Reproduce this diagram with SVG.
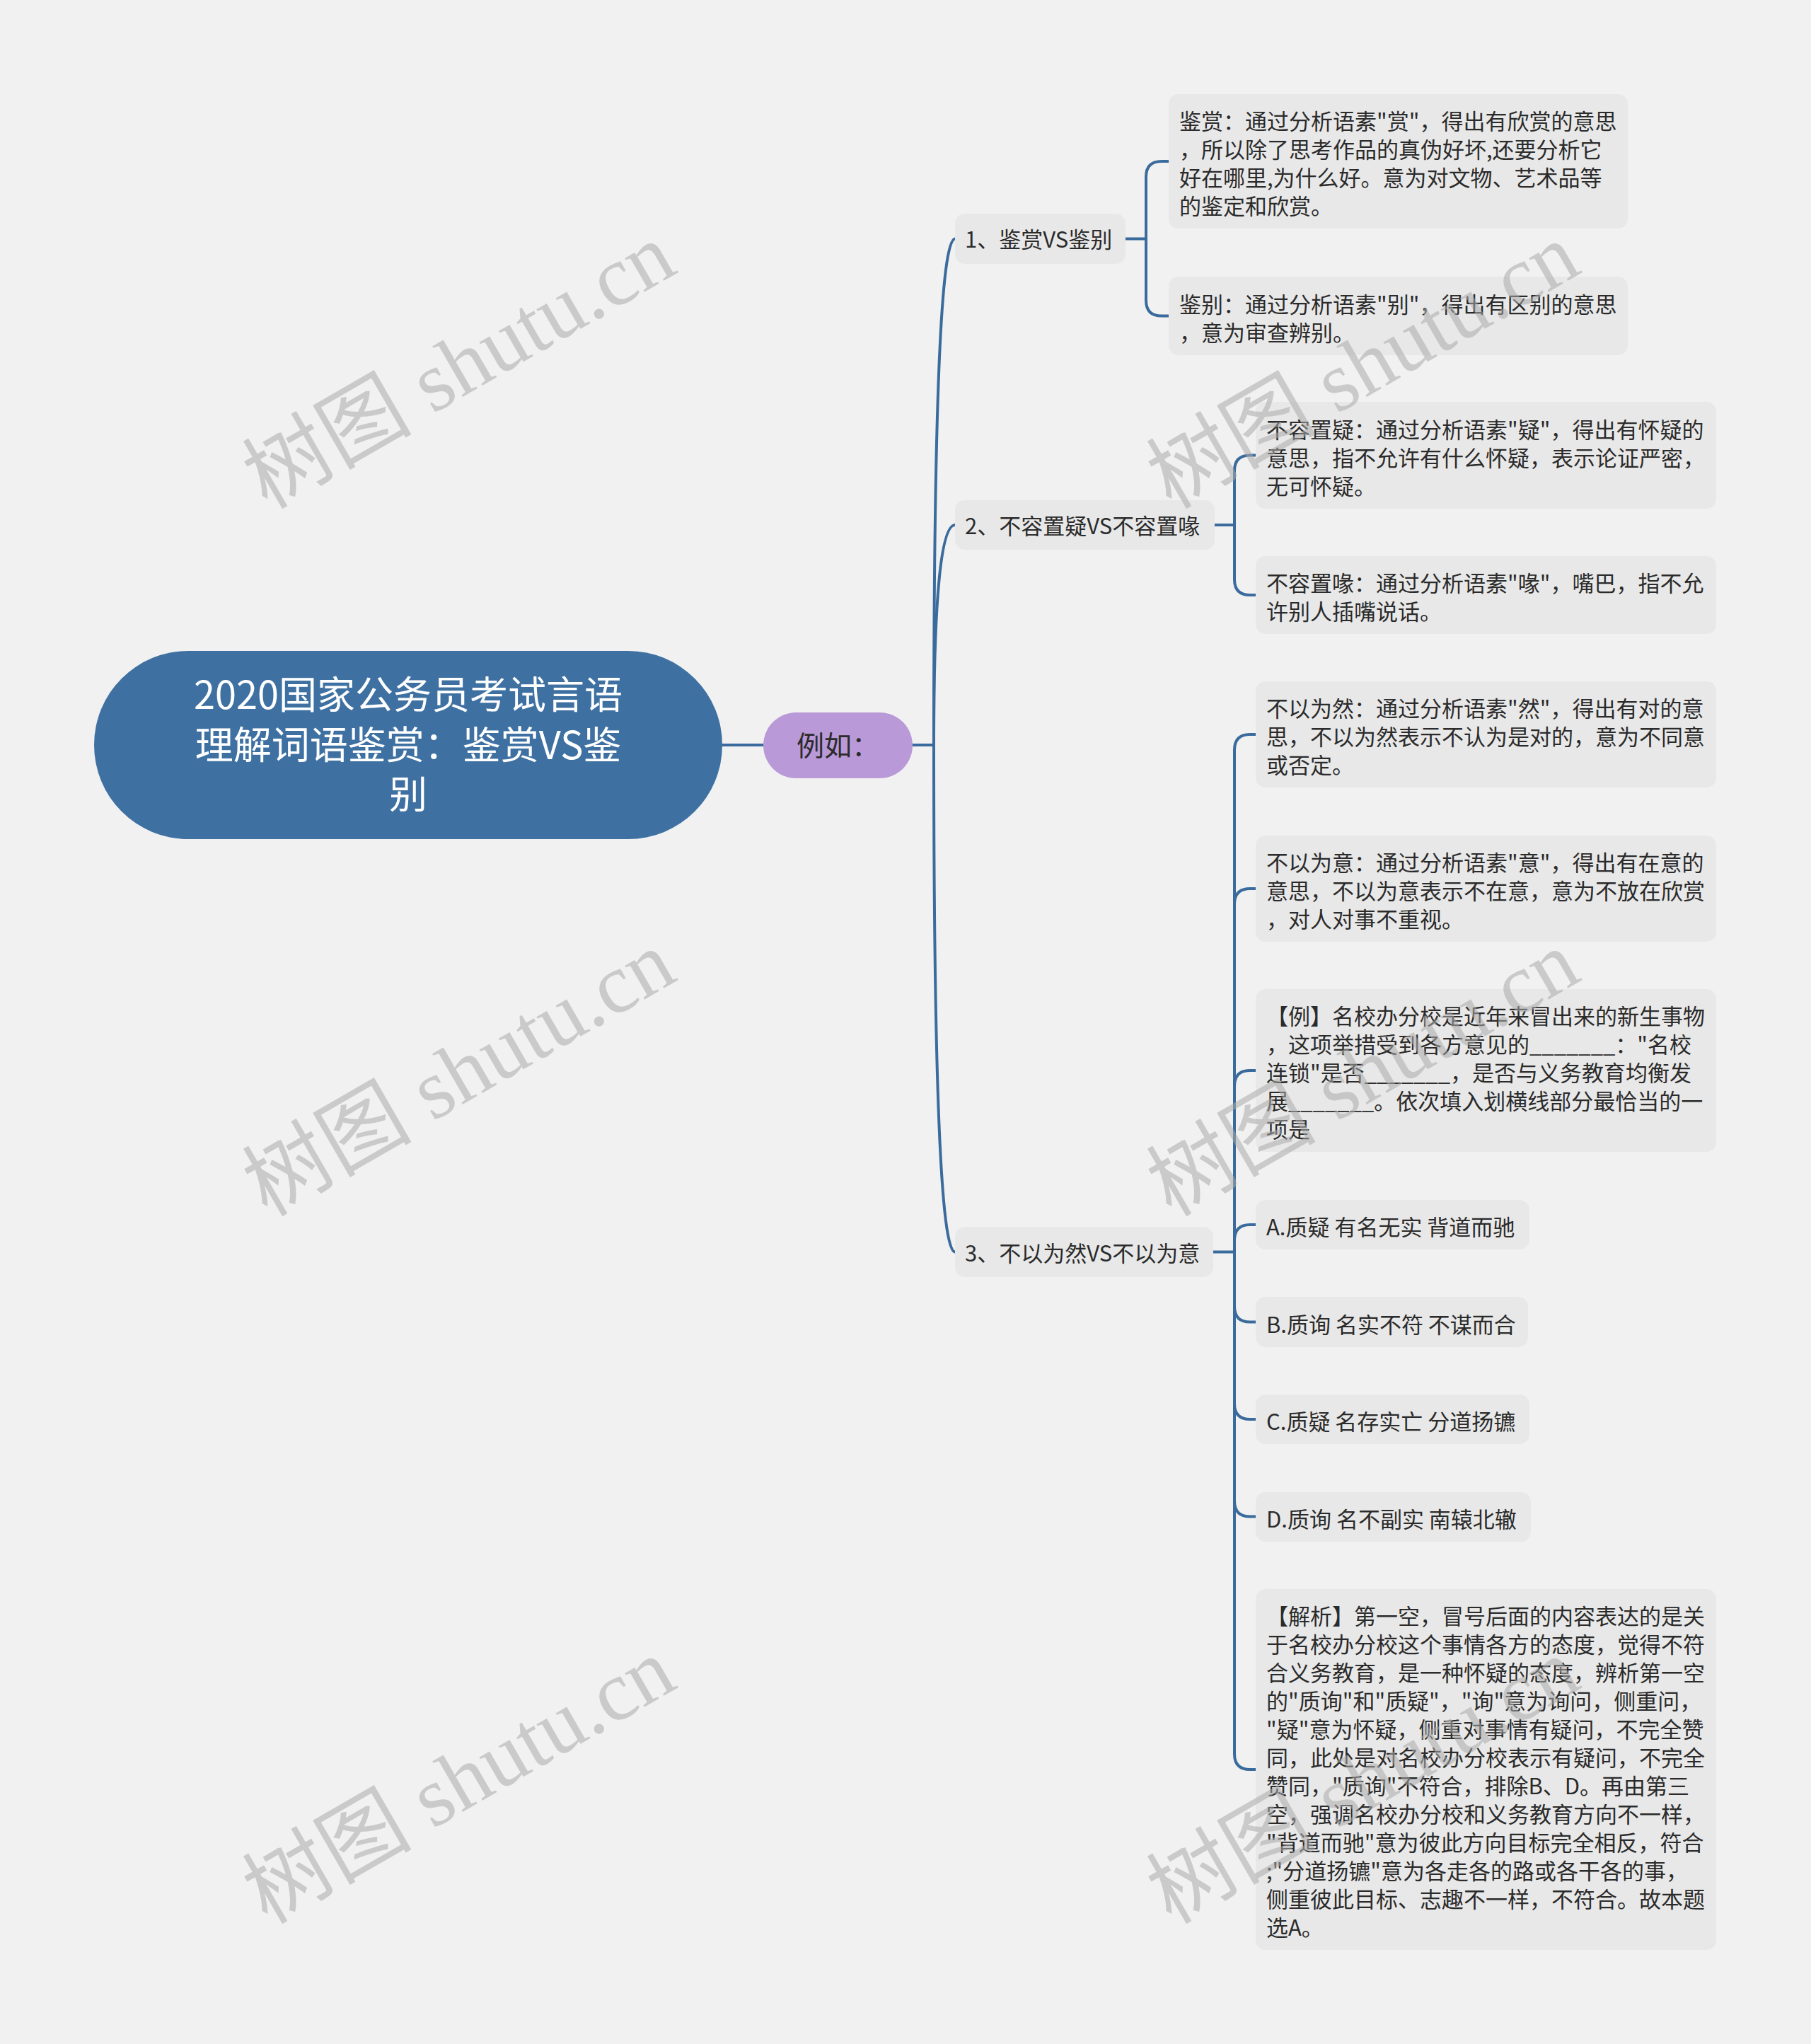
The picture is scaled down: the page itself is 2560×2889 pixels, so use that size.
<svg xmlns="http://www.w3.org/2000/svg" width="2560" height="2889" viewBox="0 0 2560 2889">
<style>
.bg{fill:#f1f1f1}
.root{fill:#3e71a2}
.sub{fill:#b999d7}
.box{fill:#e8e8e8}
.link{fill:none;stroke:#3a6b9c;stroke-width:4;stroke-linecap:round;stroke-linejoin:round}
text{font-family:"Noto Sans CJK SC","Noto Sans",sans-serif}
.rt{font-size:54px;fill:#ffffff;text-anchor:middle}
.st{font-size:39px;fill:#2b2b2b;text-anchor:middle}
.t{font-size:31px;fill:#2b2b2b}
.wm{font-family:"Liberation Serif","Noto Sans CJK SC",serif;font-size:120px;fill:#aaaaaa;fill-opacity:0.55;text-anchor:middle}
</style>
<rect class="bg" x="0" y="0" width="2560" height="2889"/>
<g id="connectors">
<path class="link" d="M1021 1053H1079"/>
<path class="link" d="M1290 1053H1320"/>
<path class="link" d="M1320 1053Q1320 337.5 1350 337.5"/>
<path class="link" d="M1320 1053Q1320 742 1350 742"/>
<path class="link" d="M1320 1053Q1320 1769.5 1350 1769.5"/>
<path class="link" d="M1591 337.5H1620"/>
<path class="link" d="M1620 337.5V250Q1620 228 1642 228H1652"/>
<path class="link" d="M1620 337.5V424.5Q1620 446.5 1642 446.5H1652"/>
<path class="link" d="M1717 742H1745"/>
<path class="link" d="M1745 742V665.5Q1745 643.5 1767 643.5H1775"/>
<path class="link" d="M1745 742V819Q1745 841 1767 841H1775"/>
<path class="link" d="M1715 1769.5H1745"/>
<path class="link" d="M1745 1769.5V1060Q1745 1038 1767 1038H1775"/>
<path class="link" d="M1745 1769.5V1278Q1745 1256 1767 1256H1775"/>
<path class="link" d="M1745 1769.5V1535Q1745 1513 1767 1513H1775"/>
<path class="link" d="M1745 1769.5V1753Q1745 1731 1767 1731H1775"/>
<path class="link" d="M1745 1769.5V1846.5Q1745 1868.5 1767 1868.5H1775"/>
<path class="link" d="M1745 1769.5V1984Q1745 2006 1767 2006H1775"/>
<path class="link" d="M1745 1769.5V2121.5Q1745 2143.5 1767 2143.5H1775"/>
<path class="link" d="M1745 1769.5V2479Q1745 2501 1767 2501H1775"/>
</g>
<g id="root">
<rect class="root" x="133" y="920" width="888" height="266" rx="133" ry="133"/>
<text class="rt" x="577" y="1002">2020国家公务员考试言语</text>
<text class="rt" x="577" y="1073">理解词语鉴赏：鉴赏VS鉴</text>
<text class="rt" x="577" y="1143">别</text>
</g>
<g id="n-liru">
<rect class="sub" x="1079" y="1007" width="211" height="93" rx="46.5" ry="46.5"/>
<text class="st" x="1184.5" y="1068">例如：</text>
</g>
<g id="n1">
<rect class="box" x="1350" y="302" width="241" height="71" rx="14"/>
<text class="t" x="1364" y="350">1、鉴赏VS鉴别</text>
</g>
<g id="n1a">
<rect class="box" x="1652" y="133" width="649" height="190" rx="14"/>
<text class="t" x="1667" y="183">鉴赏：通过分析语素"赏"，得出有欣赏的意思</text>
<text class="t" x="1667" y="223">，所以除了思考作品的真伪好坏,还要分析它</text>
<text class="t" x="1667" y="263">好在哪里,为什么好。意为对文物、艺术品等</text>
<text class="t" x="1667" y="303">的鉴定和欣赏。</text>
</g>
<g id="n1b">
<rect class="box" x="1652" y="391" width="649" height="111" rx="14"/>
<text class="t" x="1667" y="441.5">鉴别：通过分析语素"别"，得出有区别的意思</text>
<text class="t" x="1667" y="481.5">，意为审查辨别。</text>
</g>
<g id="n2">
<rect class="box" x="1350" y="707" width="367" height="70" rx="14"/>
<text class="t" x="1364" y="755">2、不容置疑VS不容置喙</text>
</g>
<g id="n2a">
<rect class="box" x="1775" y="568" width="651" height="151" rx="14"/>
<text class="t" x="1790" y="618.5">不容置疑：通过分析语素"疑"，得出有怀疑的</text>
<text class="t" x="1790" y="658.5">意思，指不允许有什么怀疑，表示论证严密，</text>
<text class="t" x="1790" y="698.5">无可怀疑。</text>
</g>
<g id="n2b">
<rect class="box" x="1775" y="786" width="651" height="110" rx="14"/>
<text class="t" x="1790" y="836">不容置喙：通过分析语素"喙"，嘴巴，指不允</text>
<text class="t" x="1790" y="876">许别人插嘴说话。</text>
</g>
<g id="n3">
<rect class="box" x="1350" y="1734" width="365" height="71" rx="14"/>
<text class="t" x="1364" y="1782.5">3、不以为然VS不以为意</text>
</g>
<g id="n3a">
<rect class="box" x="1775" y="963" width="651" height="150" rx="14"/>
<text class="t" x="1790" y="1013">不以为然：通过分析语素"然"，得出有对的意</text>
<text class="t" x="1790" y="1053">思，不以为然表示不认为是对的，意为不同意</text>
<text class="t" x="1790" y="1093">或否定。</text>
</g>
<g id="n3b">
<rect class="box" x="1775" y="1181" width="651" height="150" rx="14"/>
<text class="t" x="1790" y="1231">不以为意：通过分析语素"意"，得出有在意的</text>
<text class="t" x="1790" y="1271">意思，不以为意表示不在意，意为不放在欣赏</text>
<text class="t" x="1790" y="1311">，对人对事不重视。</text>
</g>
<g id="n3c">
<rect class="box" x="1775" y="1398" width="651" height="230" rx="14"/>
<text class="t" x="1790" y="1448">【例】名校办分校是近年来冒出来的新生事物</text>
<text class="t" x="1790" y="1488">，这项举措受到各方意见的_______："名校</text>
<text class="t" x="1790" y="1528">连锁"是否_______，是否与义务教育均衡发</text>
<text class="t" x="1790" y="1568">展_______。依次填入划横线部分最恰当的一</text>
<text class="t" x="1790" y="1608">项是</text>
</g>
<g id="n3d">
<rect class="box" x="1775" y="1696" width="387" height="70" rx="14"/>
<text class="t" x="1790" y="1746">A.质疑 有名无实 背道而驰</text>
</g>
<g id="n3e">
<rect class="box" x="1775" y="1833" width="385" height="71" rx="14"/>
<text class="t" x="1790" y="1883.5">B.质询 名实不符 不谋而合</text>
</g>
<g id="n3f">
<rect class="box" x="1775" y="1971" width="387" height="70" rx="14"/>
<text class="t" x="1790" y="2021">C.质疑 名存实亡 分道扬镳</text>
</g>
<g id="n3g">
<rect class="box" x="1775" y="2109" width="389" height="70" rx="14"/>
<text class="t" x="1790" y="2159">D.质询 名不副实 南辕北辙</text>
</g>
<g id="n3h">
<rect class="box" x="1775" y="2246" width="651" height="510" rx="14"/>
<text class="t" x="1790" y="2296">【解析】第一空，冒号后面的内容表达的是关</text>
<text class="t" x="1790" y="2336">于名校办分校这个事情各方的态度，觉得不符</text>
<text class="t" x="1790" y="2376">合义务教育，是一种怀疑的态度，辨析第一空</text>
<text class="t" x="1790" y="2416">的"质询"和"质疑"，"询"意为询问，侧重问，</text>
<text class="t" x="1790" y="2456">"疑"意为怀疑，侧重对事情有疑问，不完全赞</text>
<text class="t" x="1790" y="2496">同，此处是对名校办分校表示有疑问，不完全</text>
<text class="t" x="1790" y="2536">赞同，"质询"不符合，排除B、D。再由第三</text>
<text class="t" x="1790" y="2576">空，强调名校办分校和义务教育方向不一样，</text>
<text class="t" x="1790" y="2616">"背道而驰"意为彼此方向目标完全相反，符合</text>
<text class="t" x="1790" y="2656">;"分道扬镳"意为各走各的路或各干各的事，</text>
<text class="t" x="1790" y="2696">侧重彼此目标、志趣不一样，不符合。故本题</text>
<text class="t" x="1790" y="2736">选A。</text>
</g>
<g id="watermarks">
<text class="wm" transform="translate(648 516) rotate(-30)" y="42">树图 shutu.cn</text>
<text class="wm" transform="translate(648 1516) rotate(-30)" y="42">树图 shutu.cn</text>
<text class="wm" transform="translate(648 2516) rotate(-30)" y="42">树图 shutu.cn</text>
<text class="wm" transform="translate(1926 516) rotate(-30)" y="42">树图 shutu.cn</text>
<text class="wm" transform="translate(1926 1516) rotate(-30)" y="42">树图 shutu.cn</text>
<text class="wm" transform="translate(1926 2516) rotate(-30)" y="42">树图 shutu.cn</text>
</g>
</svg>
